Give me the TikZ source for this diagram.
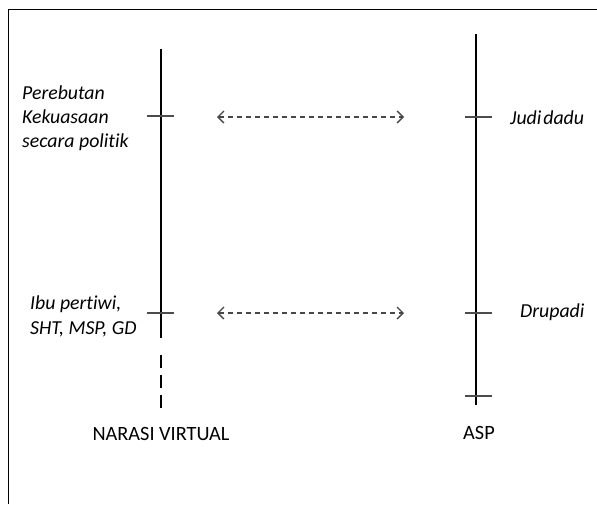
\documentclass[tikz,border=0pt]{standalone}
\usepackage{fontspec}
\setmainfont{Carlito}[Ligatures={NoCommon}]
\usetikzlibrary{arrows.meta}
\begin{document}
\begin{tikzpicture}[x=1pt,y=-1pt,
  axisline/.style={line width=2.8pt,black},
  tickline/.style={line width=1.3pt,black!70},
  framebar/.style={line width=1.3pt,black},
  link/.style={line width=1.1pt,black!72,dash pattern=on 5pt off 4pt,
    {Straight Barb[length=6pt,width=12pt,line width=1.3pt]}-{Straight Barb[length=6pt,width=12pt,line width=1.3pt]}},
  italabel/.style={inner sep=0pt,align=left,font=\fontsize{19.8}{24}\selectfont\itshape},
  caplabel/.style={inner sep=0pt,font=\fontsize{20.3}{24}\selectfont}]
\useasboundingbox (0,0) rectangle (597,504);
% frame
\coordinate (fbl) at (8.5,504);
\coordinate (ftl) at (8.5,9.5);
\coordinate (ftr) at (597,9.5);
\draw[framebar] (fbl) -- (ftl) -- (ftr);
% left axis
\coordinate (ltop) at (161,49);
\coordinate (lbot) at (161,338);
\coordinate (ldash1) at (161,355);
\coordinate (ldash2) at (161,409);
\draw[axisline] (ltop) -- (lbot);
\draw[axisline,dash pattern=on 13pt off 7pt] (ldash1) -- (ldash2);
\coordinate (lt1a) at (147,116); \coordinate (lt1b) at (174,116);
\coordinate (lt2a) at (147,313); \coordinate (lt2b) at (174,313);
\draw[tickline] (lt1a) -- (lt1b);
\draw[tickline] (lt2a) -- (lt2b);
% right axis
\coordinate (rtop) at (476,34);
\coordinate (rbot) at (476,405);
\draw[axisline] (rtop) -- (rbot);
\coordinate (rt1a) at (465,117); \coordinate (rt1b) at (492,117);
\coordinate (rt2a) at (465,313); \coordinate (rt2b) at (492,313);
\coordinate (rt3a) at (465,396); \coordinate (rt3b) at (492,396);
\draw[tickline] (rt1a) -- (rt1b);
\draw[tickline] (rt2a) -- (rt2b);
\draw[tickline] (rt3a) -- (rt3b);
% arrows
\coordinate (a1l) at (217,117); \coordinate (a1r) at (404,117);
\coordinate (a2l) at (217,313); \coordinate (a2r) at (404,313);
\draw[link] (a1l) -- (a1r);
\draw[link] (a2l) -- (a2r);
% labels
\node[italabel,anchor=west] (perebutan) at (22,118) {Perebutan\\Kekuasaan\\secara politik};
\node[italabel,anchor=west] (ibu) at (30,316.5) {Ibu pertiwi,\\[1pt]SHT, MSP, GD};
\node[italabel,anchor=west] (judi) at (510,118) {\spaceskip=0.1em Judi dadu};
\node[italabel,anchor=west] (drupadi) at (520,312) {Drupadi};
\node[caplabel] (narasi) at (161,434) {NARASI VIRTUAL};
\node[caplabel] (asp) at (479,433) {ASP};
\end{tikzpicture}
\end{document}
